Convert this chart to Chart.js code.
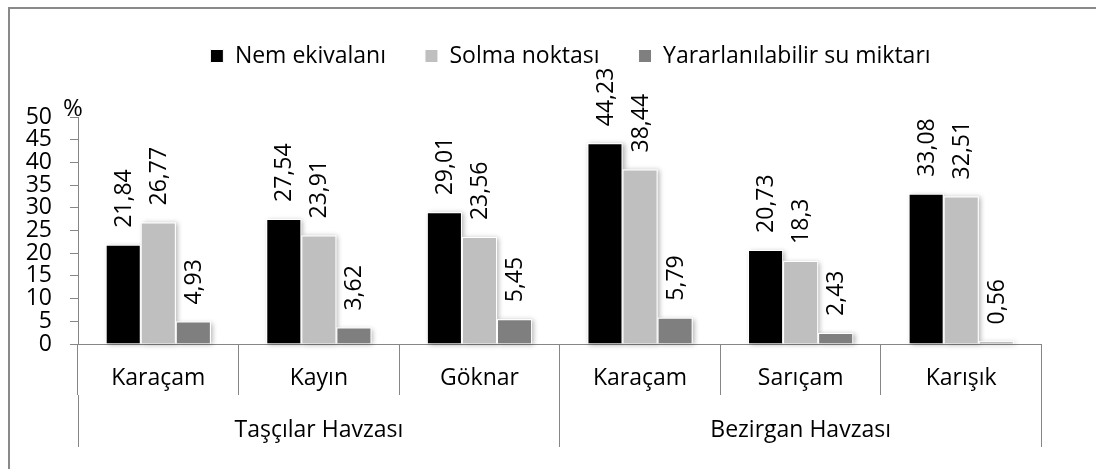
<!DOCTYPE html>
<html>
<head>
<meta charset="utf-8">
<script src="https://cdn.jsdelivr.net/npm/chart.js@4"></script>
<style>
  html, body { margin: 0; padding: 0; background: #ffffff; }
  #wrap { width: 1096px; height: 469px; }
</style>
</head>
<body>
<div id="wrap"><canvas id="c" width="1096" height="469"></canvas></div>
<script>
// ---- data ----
const categories = ['Karaçam', 'Kayın', 'Göknar', 'Karaçam', 'Sarıçam', 'Karışık'];
const groups = ['Taşçılar Havzası', 'Bezirgan Havzası'];
const seriesNames = ['Nem ekivalanı', 'Solma noktası', 'Yararlanılabilir su miktarı'];
const nemEkivalani = [21.84, 27.54, 29.01, 44.23, 20.73, 33.08];
const solmaNoktasi = [26.77, 23.91, 23.56, 38.44, 18.3, 32.51];
const yararlanilabilirSu = [4.93, 3.62, 5.45, 5.79, 2.43, 0.56];
const yMin = 0, yMax = 50, yStep = 5;
const yUnit = '%';

const seriesColors = ['#000000', '#bfbfbf', '#7f7f7f'];
const AXIS = '#868686';
const FONT = "'Open Sans', 'DejaVu Sans', sans-serif";
const FS = 23;
const LEG_PAD = 39;

Chart.defaults.font.family = FONT;
Chart.defaults.font.size = FS;
Chart.defaults.color = '#000000';

const fmt = v => String(v).replace('.', ',');

const frame = {
  id: 'frame',
  beforeDraw(chart) {
    const ctx = chart.ctx;
    ctx.save();
    ctx.fillStyle = '#ffffff';
    ctx.fillRect(0, 0, chart.width, chart.height);
    ctx.strokeStyle = '#898989';
    ctx.lineWidth = 2;
    ctx.beginPath();
    ctx.moveTo(9, chart.height + 2);
    ctx.lineTo(9, 8);
    ctx.lineTo(chart.width + 2, 8);
    ctx.stroke();
    ctx.restore();
  }
};

const legendShift = {
  id: 'legendShift',
  afterLayout(chart) {
    const lg = chart.legend;
    if (!lg) return;
    const dx = 570.5 - (lg.left + lg.right) / 2;
    lg.left += dx;
    lg.right += dx;
    const h = lg.bottom - lg.top;
    lg.top = 56 - FS / 2 - LEG_PAD;
    lg.bottom = lg.top + h;
  }
};

const shadows = {
  id: 'shadows',
  beforeDatasetsDraw(chart) {
    const ctx = chart.ctx;
    ctx.save();
    ctx.shadowColor = 'rgba(0,0,0,0.30)';
    ctx.shadowBlur = 5;
    ctx.shadowOffsetX = 2;
    ctx.shadowOffsetY = 1;
    ctx.fillStyle = '#ffffff';
    chart.data.datasets.forEach((ds, di) => {
      const meta = chart.getDatasetMeta(di);
      meta.data.forEach(el => {
        const w = el.width;
        const top = Math.min(el.y, el.base);
        const h = Math.abs(el.base - el.y);
        ctx.fillRect(el.x - w / 2, top, w, h);
      });
    });
    ctx.restore();
  }
};

const valueLabels = {
  id: 'valueLabels',
  afterDatasetsDraw(chart) {
    const ctx = chart.ctx;
    ctx.save();
    ctx.font = FS + 'px ' + FONT;
    ctx.fillStyle = '#000000';
    ctx.textAlign = 'left';
    ctx.textBaseline = 'middle';
    chart.data.datasets.forEach((ds, di) => {
      const meta = chart.getDatasetMeta(di);
      meta.data.forEach((el, i) => {
        ctx.save();
        ctx.translate(el.x + 1, el.y - 17);
        ctx.rotate(-Math.PI / 2);
        ctx.fillText(fmt(ds.data[i]), 0, 0);
        ctx.restore();
      });
    });
    ctx.restore();
  },
  afterDraw(chart) {
    const ctx = chart.ctx;
    const a = chart.chartArea;
    ctx.save();
    ctx.font = (FS + 1) + 'px ' + FONT;
    ctx.fillStyle = '#000000';
    ctx.textAlign = 'center';
    ctx.textBaseline = 'alphabetic';
    ctx.fillText(yUnit, a.left - 5, a.top - 1);
    ctx.restore();
  }
};

const mk = (label, data, color) => ({
  label, data,
  backgroundColor: color,
  borderColor: '#ffffff',
  borderWidth: 1,
  categoryPercentage: 0.655,
  barPercentage: 1.0,
  xAxisID: 'x',
  yAxisID: 'y'
});

new Chart(document.getElementById('c'), {
  type: 'bar',
  data: {
    labels: categories,
    datasets: [
      mk(seriesNames[0], nemEkivalani, seriesColors[0]),
      mk(seriesNames[1], solmaNoktasi, seriesColors[1]),
      mk(seriesNames[2], yararlanilabilirSu, seriesColors[2])
    ]
  },
  options: {
    responsive: false,
    devicePixelRatio: 1,
    animation: false,
    layout: { padding: { top: 117 - (FS + LEG_PAD + 10), left: 8, right: 54.5, bottom: 22 } },
    plugins: {
      legend: {
        position: 'top',
        labels: {
          boxWidth: 13, boxHeight: 13, padding: LEG_PAD,
          font: { size: FS, family: FONT }, color: '#000000'
        }
      },
      tooltip: { enabled: false }
    },
    scales: {
      x: {
        type: 'category',
        position: 'bottom',
        weight: 0,
        offset: true,
        grid: { offset: true, drawOnChartArea: false, drawTicks: true, tickLength: 51, color: AXIS, lineWidth: 1 },
        border: { display: true, color: AXIS, width: 1 },
        ticks: { padding: -30, maxRotation: 0, autoSkip: false, color: '#000000', font: { size: FS } },
        afterFit: s => { s.height = 51; }
      },
      x2: {
        type: 'category',
        axis: 'x',
        labels: groups,
        position: 'bottom',
        weight: 1,
        offset: true,
        grid: { offset: true, drawOnChartArea: false, drawTicks: true, tickLength: 52, color: AXIS, lineWidth: 1 },
        border: { display: false },
        ticks: { padding: -30, maxRotation: 0, autoSkip: false, color: '#000000', font: { size: FS } },
        afterFit: s => { s.height = 52; }
      },
      y: {
        type: 'linear',
        position: 'left',
        min: yMin, max: yMax,
        grid: { drawOnChartArea: false, drawTicks: true, tickLength: 8, color: AXIS, lineWidth: 1 },
        border: { display: true, color: AXIS, width: 1 },
        ticks: { stepSize: yStep, autoSkip: false, padding: 18, color: '#000000', font: { size: FS } },
        afterFit: s => { s.width = 70; }
      }
    }
  },
  plugins: [frame, legendShift, shadows, valueLabels]
});
</script>
</body>
</html>
